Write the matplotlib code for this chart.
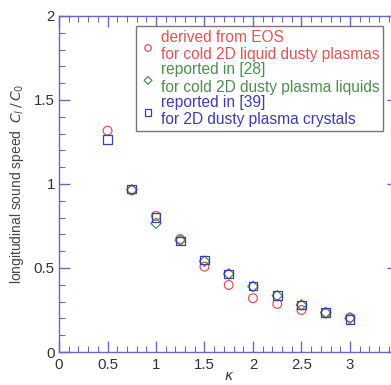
import numpy as np
import matplotlib
matplotlib.use("Agg")
import matplotlib.pyplot as plt
from matplotlib.ticker import MultipleLocator

plt.rcParams['font.family'] = ['Liberation Sans', 'DejaVu Sans']

# data
kappa = [0.5, 0.75, 1.0, 1.25, 1.5, 1.75, 2.0, 2.25, 2.5, 2.75, 3.0]
eos = [1.317, 0.962, 0.81, 0.672, 0.508, 0.399, 0.32, 0.286, 0.25, 0.23, 0.206]

kappa_liq = [0.75, 1.0, 1.25, 1.5, 1.75, 2.0, 2.25, 2.5, 2.75, 3.0]
liquid = [0.965, 0.766, 0.665, 0.54, 0.465, 0.39, 0.335, 0.28, 0.235, 0.2]

kappa_cry = [0.5, 0.75, 1.0, 1.25, 1.5, 1.75, 2.0, 2.25, 2.5, 2.75, 3.0]
crystal = [1.265, 0.97, 0.80, 0.66, 0.548, 0.464, 0.393, 0.335, 0.28, 0.234, 0.195]

xticks = [0, 0.5, 1, 1.5, 2, 2.5, 3]
xtick_labels = ['0', '0.5', '1', '1.5', '2', '2.5', '3']
yticks = [0, 0.5, 1, 1.5, 2]
ytick_labels = ['0', '0.5', '1', '1.5', '2']

labels = ["derived from EOS\nfor cold 2D liquid dusty plasmas",
          "reported in [28]\nfor cold 2D dusty plasma liquids",
          "reported in [39]\nfor 2D dusty plasma crystals"]
colors = ["#e05555", "#4e8f4e", "#3c3cb4"]

axcol = "#6868c0"

fig = plt.figure(figsize=(3.91, 3.85), dpi=100)
ax = fig.add_axes([0.151, 0.0857, 0.868, 0.873])

h1 = ax.scatter(kappa, eos, s=40, marker='o', facecolors='none',
                edgecolors=colors[0], linewidths=0.9)
h2 = ax.scatter(kappa_liq, liquid, s=28, marker='D', facecolors='none',
                edgecolors=colors[1], linewidths=0.9)
h3 = ax.scatter(kappa_cry, crystal, s=40, marker='s', facecolors='none',
                edgecolors=colors[2], linewidths=0.9)

ax.set_xlim(0, 3.5)
ax.set_ylim(0, 2)
ax.set_xticks(xticks)
ax.set_xticklabels(xtick_labels)
ax.set_yticks(yticks)
ax.set_yticklabels(ytick_labels)
ax.xaxis.set_minor_locator(MultipleLocator(0.1))
ax.yaxis.set_minor_locator(MultipleLocator(0.1))

ax.tick_params(which='both', direction='in', top=True, right=True,
               color=axcol, labelsize=10.8, labelcolor='#333333')
ax.tick_params(which='major', length=8, width=1)
ax.tick_params(which='minor', length=4.5, width=0.8)
ax.tick_params(axis='x', pad=4)
ax.tick_params(axis='y', pad=3)
for sp in ax.spines.values():
    sp.set_color(axcol)
    sp.set_linewidth(1)

ax.set_xlabel(r'$\kappa$', fontsize=10, color='#333333', labelpad=-2)
ax.set_ylabel(r'longitudinal sound speed  $C_l\,/\,C_0$', fontsize=10,
              color='#444444', labelpad=6)

leg = ax.legend([h1, h2, h3], labels, loc='upper left',
                bbox_to_anchor=(0.228, 0.97), fontsize=11.2,
                labelcolor=colors, frameon=True, fancybox=False,
                edgecolor='#555555', handletextpad=0.3, labelspacing=0.0,
                borderpad=0.25, handlelength=1.0, markerscale=0.75,
                borderaxespad=0)
leg.get_frame().set_linewidth(1)

fig.savefig("out.png", dpi=100)
